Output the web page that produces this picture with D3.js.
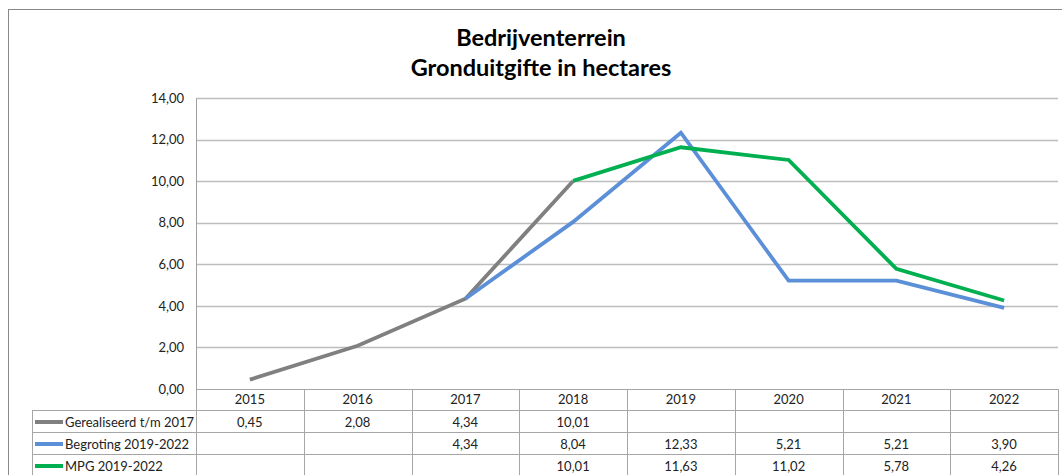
<!DOCTYPE html>
<html>
<head>
<meta charset="utf-8">
<script src="https://cdn.jsdelivr.net/npm/d3@7"></script>
<style>
  body { margin: 0; background: #fff; }
  svg { display: block; font-family: Lato, "Open Sans", sans-serif; }
</style>
</head>
<body>
<svg id="chart" width="1062" height="475"></svg>
<script>
// data
var years = ['2015','2016','2017','2018','2019','2020','2021','2022'];
var gerealiseerd = [0.45, 2.08, 4.34, 10.01, null, null, null, null];
var begroting = [null, null, 4.34, 8.04, 12.33, 5.21, 5.21, 3.90];
var mpg = [null, null, null, 10.01, 11.63, 11.02, 5.78, 4.26];
var seriesNames = ['Gerealiseerd t/m 2017', 'Begroting 2019-2022', 'MPG 2019-2022'];
var yTicks = [0, 2, 4, 6, 8, 10, 12, 14];

var colors = ['#808080', '#5b8fd8', '#00b050'];
var allSeries = [gerealiseerd, begroting, mpg];

var svg = d3.select('#chart');
var plotL = 196, plotR = 1058, plotT = 98, plotB = 389;
var rowH = 22, legendLeft = 32;
var fs = 13;

var x = d3.scaleBand().domain(years).range([plotL, plotR]).padding(0);
var y = d3.scaleLinear().domain([0, 14]).range([plotB, plotT]);
var fmt = function(v) { return d3.format('.2f')(v).replace('.', ','); };

// outer frame
svg.append('rect').attr('x', 8.5).attr('y', 9.5).attr('width', 1070).attr('height', 480)
  .attr('fill', 'none').attr('stroke', '#888').attr('stroke-width', 1);

// title
svg.append('text').attr('x', 541).attr('y', 46).attr('text-anchor', 'middle')
  .attr('font-size', 23.5).attr('font-weight', 'bold').attr('fill', '#000').text('Bedrijventerrein');
svg.append('text').attr('x', 541).attr('y', 76).attr('text-anchor', 'middle')
  .attr('font-size', 23.5).attr('font-weight', 'bold').attr('fill', '#000').text('Gronduitgifte in hectares');

// gridlines
svg.append('g').selectAll('line').data(yTicks.slice(1)).join('line')
  .attr('x1', plotL).attr('x2', plotR)
  .attr('y1', function(d) { return Math.round(y(d)) + 0.5; })
  .attr('y2', function(d) { return Math.round(y(d)) + 0.5; })
  .attr('stroke', '#bdbdbd').attr('stroke-width', 1.3);

// y axis
var yAxis = svg.append('g').attr('transform', 'translate(' + plotL + ',0)')
  .call(d3.axisLeft(y).tickValues(yTicks).tickFormat(fmt).tickSize(0).tickPadding(12));
yAxis.select('.domain').attr('stroke', '#a0a0a0');
yAxis.selectAll('text').attr('font-size', fs).attr('fill', '#222').attr('font-family', 'Lato, sans-serif');

// lines
var line = d3.line()
  .defined(function(d) { return d != null; })
  .x(function(d, i) { return x(years[i]) + x.bandwidth() / 2; })
  .y(function(d) { return y(d); });

svg.append('g').selectAll('path').data(allSeries).join('path')
  .attr('d', line).attr('fill', 'none')
  .attr('stroke', function(d, i) { return colors[i]; })
  .attr('stroke-width', 3.8).attr('stroke-linejoin', 'miter');

// data table
var table = svg.append('g').attr('stroke', '#a6a6a6').attr('stroke-width', 1);
table.append('line').attr('x1', plotL).attr('x2', plotR).attr('y1', plotB + 0.5).attr('y2', plotB + 0.5);
for (var r = 1; r <= 4; r++) {
  var yy = plotB + r * rowH - 0.5;
  table.append('line').attr('x1', legendLeft).attr('x2', plotR).attr('y1', yy).attr('y2', yy);
}
table.selectAll('line.v').data(years.concat(['end'])).join('line').attr('class', 'v')
  .attr('x1', function(d, i) { return Math.round(i < years.length ? x(d) : plotR) + 0.5; })
  .attr('x2', function(d, i) { return Math.round(i < years.length ? x(d) : plotR) + 0.5; })
  .attr('y1', plotB).attr('y2', 480);
table.append('line').attr('x1', legendLeft + 0.5).attr('x2', legendLeft + 0.5)
  .attr('y1', plotB + rowH).attr('y2', 480);

// year header
svg.append('g').selectAll('text').data(years).join('text')
  .attr('x', function(d) { return x(d) + x.bandwidth() / 2; })
  .attr('y', plotB + 15).attr('text-anchor', 'middle')
  .attr('font-size', fs).attr('fill', '#222').text(function(d) { return d; });

// rows
allSeries.forEach(function(s, si) {
  var cy = plotB + rowH * (si + 1) + rowH / 2;
  svg.append('line').attr('x1', 35).attr('x2', 63).attr('y1', cy).attr('y2', cy)
    .attr('stroke', colors[si]).attr('stroke-width', 4);
  svg.append('text').attr('x', 65).attr('y', cy + 4.5).attr('font-size', fs).attr('fill', '#222')
    .text(seriesNames[si]);
  svg.append('g').selectAll('text').data(s).join('text')
    .attr('x', function(d, i) { return x(years[i]) + x.bandwidth() / 2; })
    .attr('y', cy + 4.5).attr('text-anchor', 'middle')
    .attr('font-size', fs).attr('fill', '#222')
    .text(function(d) { return d == null ? '' : fmt(d); });
});
</script>
</body>
</html>
